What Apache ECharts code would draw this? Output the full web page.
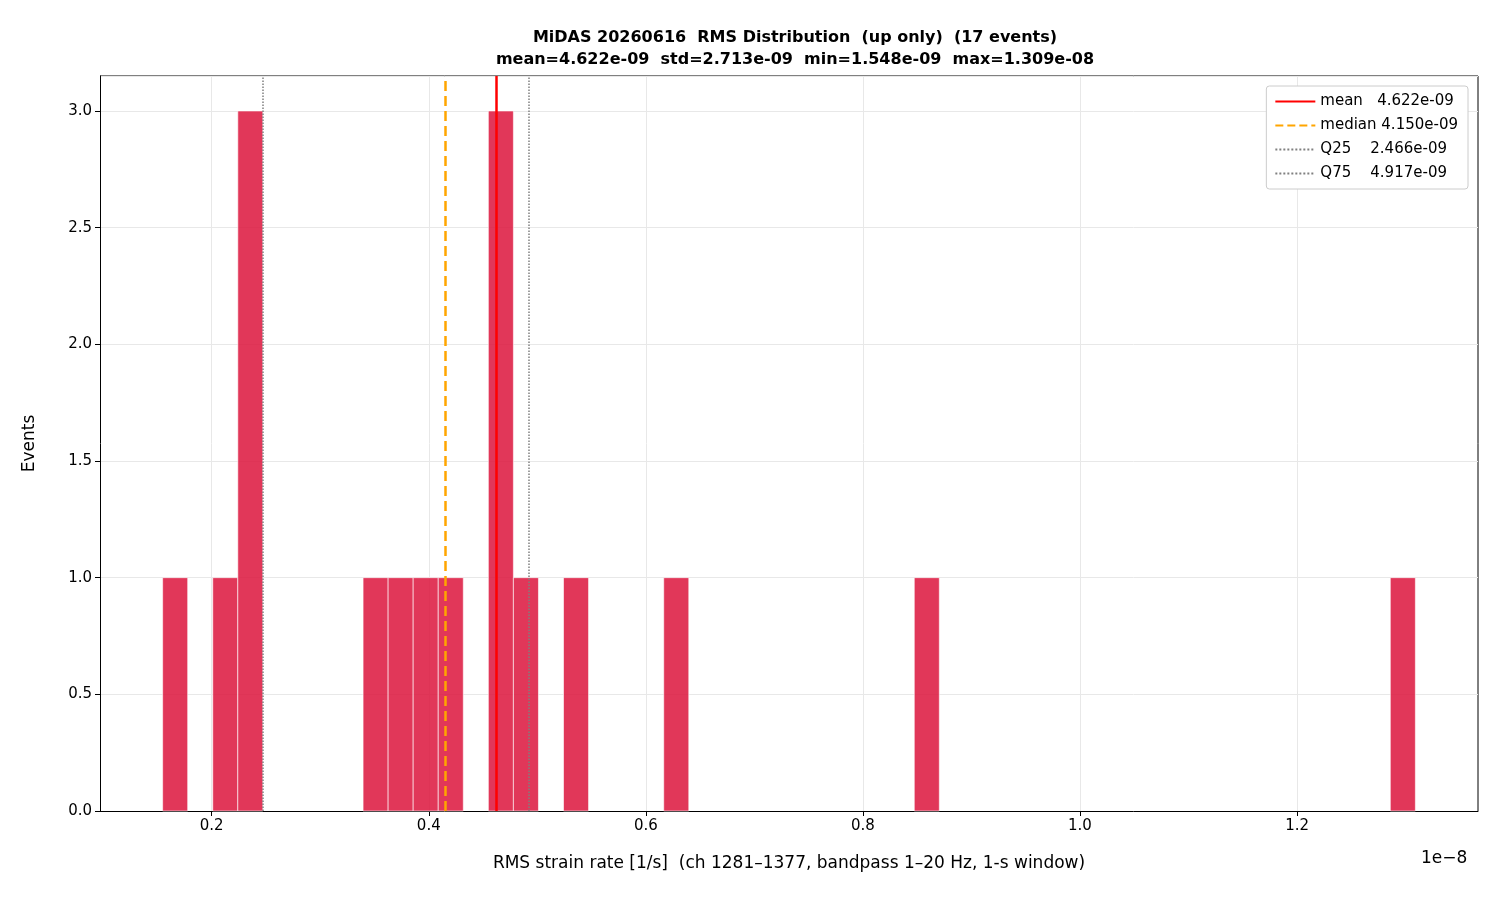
<!DOCTYPE html>
<html><head><meta charset="utf-8">
<script src="https://cdn.jsdelivr.net/npm/echarts@6/dist/echarts.min.js"></script>
<style>html,body{margin:0;padding:0}#c{width:1500px;height:900px}</style>
</head><body><div id="c"></div>
<script>
// values in units of 1e-8
const dataMin = 0.1548, dataMax = 1.309;
const counts = [1,0,1,3,0,0,0,0,1,1,1,1,0,3,1,0,1,0,0,0,1,0,0,0,0,0,0,0,0,0,1,0,0,0,0,0,0,0,0,0,0,0,0,0,0,0,0,0,0,1];
const xTicks = [0.2,0.4,0.6,0.8,1.0,1.2];
const stats = {mean:0.4622, median:0.4150, q25:0.2466, q75:0.4917};
const nb = counts.length, w = (dataMax-dataMin)/nb;
const bins = counts.map((c,i)=>[dataMin+i*w, dataMin+(i+1)*w, c]);
const span = dataMax-dataMin;
const F = 'DejaVu Sans';
function vline(name,x,color,type,width){
  return {name, type:'line', data:[], symbol:'none', lineStyle:{color,type,width}, itemStyle:{color},
    markLine:{silent:true,symbol:'none',precision:6,label:{show:false},lineStyle:{color,type,width},data:[{xAxis:x}]}, z:5};
}
const chart = echarts.init(document.getElementById('c'));
chart.setOption({
  animation:false,
  title:{text:'MiDAS 20260616  RMS Distribution  (up only)  (17 events)\nmean=4.622e-09  std=2.713e-09  min=1.548e-09  max=1.309e-08',
    left:790, top:22, textAlign:'center', textStyle:{fontFamily:F,fontSize:16,fontWeight:'bold',lineHeight:22,color:'#000'}},
  grid:{left:100,right:22,top:76,bottom:89},
  legend:{right:32,top:86,orient:'vertical',backgroundColor:'#fff',borderColor:'#ccc',borderWidth:1,borderRadius:3,padding:[8,10,8,8],
    itemWidth:40,itemHeight:12,itemGap:9,itemStyle:{opacity:0},textStyle:{fontFamily:F,fontSize:15,color:'#000'},
    data:['mean','median','Q25','Q75'],
    formatter:n=>({mean:'mean   4.622e-09',median:'median 4.150e-09',Q25:'Q25    2.466e-09',Q75:'Q75    4.917e-09'})[n]},
  xAxis:{type:'value',min:dataMin-0.05*span,max:dataMax+0.05*span,
    name:'RMS strain rate [1/s]  (ch 1281–1377, bandpass 1–20 Hz, 1-s window)',nameLocation:'middle',nameGap:44,
    nameTextStyle:{fontFamily:F,fontSize:17,color:'#000'},
    axisLine:{lineStyle:{color:'#000'}},
    axisTick:{show:true,customValues:xTicks,length:5,lineStyle:{color:'#000'}},
    axisLabel:{customValues:xTicks,fontFamily:F,fontSize:15,color:'#000',formatter:v=>v.toFixed(1)},
    splitLine:{show:true,lineStyle:{color:'#e8e8e8'}}},
  yAxis:{type:'value',min:0,max:3.15,interval:0.5,name:'Events',nameLocation:'middle',nameGap:62,
    nameTextStyle:{fontFamily:F,fontSize:17,color:'#000'},
    axisLine:{show:true,lineStyle:{color:'#000'}},axisTick:{show:true,length:5,lineStyle:{color:'#000'}},
    axisLabel:{fontFamily:F,fontSize:15,color:'#000',formatter:v=>v.toFixed(1),showMaxLabel:false},
    splitLine:{lineStyle:{color:'#e8e8e8'}}},
  graphic:[{type:'line',shape:{x1:1478,y1:76,x2:1478,y2:811},style:{stroke:'#000',lineWidth:1}},
    {type:'line',shape:{x1:100,y1:76,x2:1478,y2:76},style:{stroke:'#000',lineWidth:1}},
    {type:'text',left:1421,top:850,style:{text:'1e−8',font:'17px DejaVu Sans',fill:'#000'}}],
  series:[
    {type:'custom',data:bins,z:2,renderItem:(p,api)=>{
      const c=api.value(2); if(!c) return null;
      const a=api.coord([api.value(0),c]), b=api.coord([api.value(1),0]);
      return {type:'rect',shape:{x:a[0],y:a[1],width:b[0]-a[0],height:b[1]-a[1]},
        style:{fill:'rgba(220,20,60,0.85)',stroke:'#fff',lineWidth:0.6}};
    }},
    vline('mean',stats.mean,'#ff0000','solid',2.5),
    vline('median',stats.median,'#ffa500','dashed',2.5),
    vline('Q25',stats.q25,'#808080','dotted',1.5),
    vline('Q75',stats.q75,'#808080','dotted',1.5)
  ]
});
</script></body></html>
